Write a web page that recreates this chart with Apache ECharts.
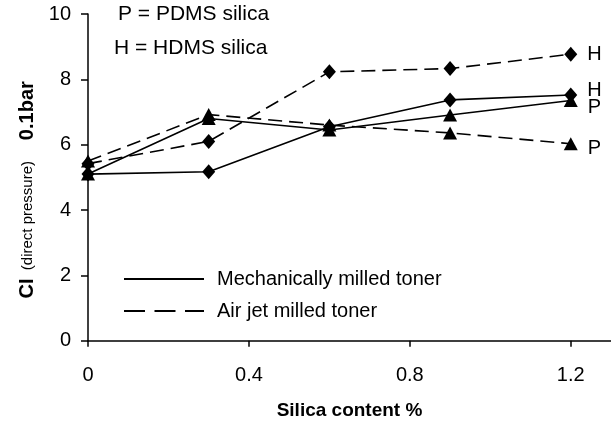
<!DOCTYPE html>
<html>
<head>
<meta charset="utf-8">
<script src="https://cdn.jsdelivr.net/npm/echarts@6/dist/echarts.min.js"></script>
<style>html,body{margin:0;padding:0;background:#fff}#c{width:611px;height:423px}</style>
</head>
<body>
<div id="c"></div>
<script>
var silica = [0, 0.3, 0.6, 0.9, 1.2];
var mechHDMS = [5.1, 5.17, 6.55, 7.37, 7.52];
var mechPDMS = [5.1, 6.8, 6.45, 6.91, 7.35];
var airHDMS = [5.42, 6.1, 8.23, 8.33, 8.77];
var airPDMS = [5.5, 6.92, 6.6, 6.36, 6.03];
var xTicks = [0, 0.4, 0.8, 1.2];
var yTicks = [0, 2, 4, 6, 8, 10];
var endTags = ['H', 'P', 'H', 'P'];
var legendNames = ['Mechanically milled toner', 'Air jet milled toner'];

var FONT = '"Liberation Sans", Arial, sans-serif';
function pairs(vals, tag, offY) {
  return vals.map(function (v, i) {
    var item = { value: [silica[i], v] };
    if (i === vals.length - 1) {
      item.label = { show: true, position: 'right', distance: 10, formatter: tag,
        color: '#000', fontSize: 20, fontFamily: FONT, offset: [0, offY] };
    }
    return item;
  });
}
function mk(name, vals, symbol, dashed, tag, offY) {
  return {
    type: 'line', name: name, data: pairs(vals, tag, offY),
    symbol: symbol, symbolSize: symbol === 'diamond' ? [13, 15] : [14, 13],
    itemStyle: { color: '#000' },
    lineStyle: { color: '#000', width: 1.6, type: dashed ? [14, 7] : 'solid' },
    emphasis: { disabled: true }, silent: true, z: 3, animation: false
  };
}
var chart = echarts.init(document.getElementById('c'), null, { renderer: 'canvas' });
chart.setOption({
  animation: false,
  grid: { left: 88, top: 14, right: 0, bottom: 82.3, containLabel: false, outerBoundsMode: 'none' },
  legend: {
    data: legendNames, orient: 'vertical', left: 118, top: 264, itemGap: 12,
    itemWidth: 80, itemHeight: 22,
    itemStyle: { opacity: 0 },
    textStyle: { fontSize: 20, fontFamily: FONT, color: '#000', padding: [0, 0, 0, 8] },
    selectedMode: false
  },
  xAxis: {
    type: 'value', min: 0, max: 1.3, interval: 0.4,
    name: 'Silica content %', nameLocation: 'middle', nameGap: 61,
    nameTextStyle: { fontSize: 19, fontWeight: 'bold', fontFamily: FONT, color: '#000' },
    axisLine: { lineStyle: { color: '#000', width: 1.5 } },
    axisTick: { length: 6, inside: false, lineStyle: { color: '#000', width: 1.5 }, customValues: xTicks },
    axisLabel: { fontSize: 20, fontFamily: FONT, color: '#000', margin: 25, customValues: xTicks,
      formatter: function (v) { return String(v); } },
    splitLine: { show: false }
  },
  yAxis: {
    type: 'value', min: 0, max: 10, interval: 2,
    name: '{b|CI}{s|  (direct pressure)     }{b|0.1bar}{s|      }', nameLocation: 'middle', nameGap: 50,
    nameTextStyle: { color: '#000', fontFamily: FONT,
      rich: { b: { fontSize: 20, fontWeight: 'bold', fontFamily: FONT, color: '#000' },
              s: { fontSize: 15, fontFamily: FONT, color: '#000', fontWeight: 'normal' } } },
    axisLine: { show: true, lineStyle: { color: '#000', width: 1.5 } },
    axisTick: { show: true, length: 7, lineStyle: { color: '#000', width: 1.5 } },
    axisLabel: { fontSize: 20, fontFamily: FONT, color: '#000', margin: 17 },
    splitLine: { show: false }
  },
  graphic: [
    { type: 'text', left: 118, top: 4, style: { text: 'P = PDMS silica', fontSize: 21, fontFamily: FONT, fill: '#000' } },
    { type: 'text', left: 114, top: 38, style: { text: 'H = HDMS silica', fontSize: 21, fontFamily: FONT, fill: '#000' } }
  ],
  series: [
    mk('mechH', mechHDMS, 'diamond', false, endTags[0], -5),
    mk('mechP', mechPDMS, 'triangle', false, endTags[1], 7),
    mk('airH', airHDMS, 'diamond', true, endTags[2], 0),
    mk('airP', airPDMS, 'triangle', true, endTags[3], 5),
    { type: 'line', name: legendNames[0], data: [], symbol: 'none',
      itemStyle: { color: '#000' }, lineStyle: { color: '#000', width: 2, type: 'solid' } },
    { type: 'line', name: legendNames[1], data: [], symbol: 'none',
      itemStyle: { color: '#000' }, lineStyle: { color: '#000', width: 2, type: [21, 9.5] } }
  ]
});
</script>
</body>
</html>
